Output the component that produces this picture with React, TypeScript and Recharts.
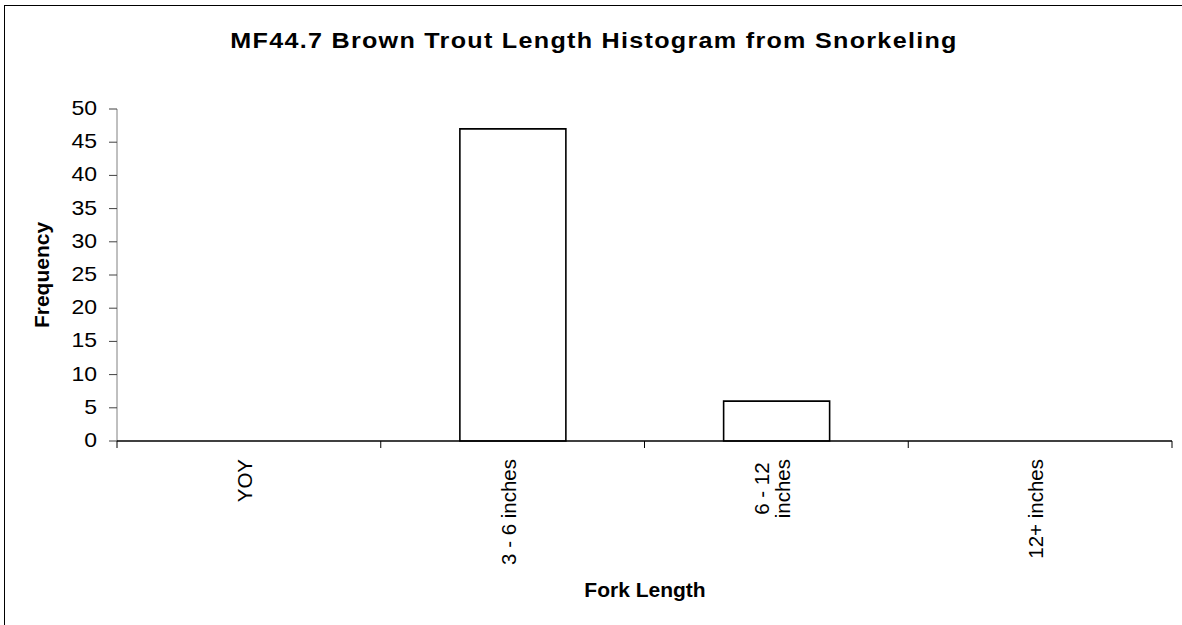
import React from 'react';
import { BarChart, Bar, XAxis, YAxis } from 'recharts';

const TITLE = 'MF44.7 Brown Trout Length Histogram from Snorkeling';
const X_TITLE = 'Fork Length';
const Y_TITLE = 'Frequency';
const categories = ['YOY', '3 - 6 inches', '6 - 12 inches', '12+ inches'];
const frequency = [0, 47, 6, 0];
const yTicks = [0, 5, 10, 15, 20, 25, 30, 35, 40, 45, 50];

const data = categories.map((c, i) => ({ name: c, value: frequency[i] }));

const W = 1182;
const H = 625;
const MARGIN = { top: 109, right: 10, left: 0, bottom: 34 };
const Y_AXIS_W = 117;
const X_AXIS_H = 150;
const PLOT_W = W - MARGIN.left - MARGIN.right - Y_AXIS_W;
const FONT = "'Liberation Sans', Arial, sans-serif";
const TICK_FS = 20.5;
const WRAP_W = 110;
const LINE_H = 21;

let ctx: CanvasRenderingContext2D | null = null;
const measure = (s: string) => {
  if (!ctx) {
    const c = document.createElement('canvas');
    ctx = c.getContext('2d');
  }
  if (!ctx) return s.length * TICK_FS * 0.5;
  ctx.font = `${TICK_FS}px ${FONT}`;
  return ctx.measureText(s).width;
};

const wrap = (s: string) => {
  const words = s.split(' ');
  const lines: string[] = [];
  let cur = '';
  for (const w of words) {
    const t = cur ? cur + ' ' + w : w;
    if (measure(t) > WRAP_W && cur) {
      lines.push(cur);
      cur = w;
    } else cur = t;
  }
  if (cur) lines.push(cur);
  return lines;
};

const XTick = (props: any) => {
  const { x, y, payload, index } = props;
  const band = PLOT_W / categories.length;
  const lines = wrap(String(payload.value));
  const maxW = Math.max(...lines.map(measure));
  const n = lines.length;
  return (
    <g>
      <line x1={x - band / 2} x2={x - band / 2} y1={y} y2={y + 7} stroke="#000" strokeWidth={1} />
      {index === categories.length - 1 && (
        <line x1={x + band / 2} x2={x + band / 2} y1={y} y2={y + 7} stroke="#000" strokeWidth={1} />
      )}
      <g transform={`translate(${x + 3}, ${y + 18}) rotate(-90)`}>
        {lines.map((ln, i) => (
          <text
            key={i}
            x={-maxW / 2}
            y={(i - (n - 1) / 2) * LINE_H}
            textAnchor="middle"
            fontSize={TICK_FS}
            fontFamily={FONT}
            fill="#000"
          >
            {ln}
          </text>
        ))}
      </g>
    </g>
  );
};

const YTick = (props: any) => {
  const { x, y, payload } = props;
  return (
    <g transform={`translate(${x}, ${y}) scale(1.15, 1)`}>
      <text
        x={0}
        y={0}
        dy="0.3em"
        textAnchor="end"
        fontSize={20}
        fontFamily={FONT}
        fill="#000"
      >
        {payload.value}
      </text>
    </g>
  );
};

export default function App() {
  return (
    <div
      style={{
        position: 'absolute',
        left: 0,
        top: 0,
        width: W,
        height: H,
        background: '#fff',
        overflow: 'hidden',
      }}
    >
      <div
        style={{
          position: 'absolute',
          left: 4,
          top: 5,
          width: W + 50,
          height: H + 50,
          borderTop: '1px solid #000',
          borderLeft: '1px solid #000',
        }}
      />
      <div style={{ position: 'absolute', left: 0, top: 0 }}>
        <BarChart
          width={W}
          height={H}
          data={data}
          margin={MARGIN}
          barCategoryGap="30%"
          style={{ fontFamily: FONT }}
        >
          <YAxis
            width={Y_AXIS_W}
            domain={[0, 50]}
            ticks={yTicks}
            interval={0}
            tickSize={8}
            tickMargin={12}
            axisLine={{ stroke: '#808080', strokeWidth: 1 }}
            tickLine={{ stroke: '#404040', strokeWidth: 1 }}
            tick={<YTick />}
          />
          <XAxis
            dataKey="name"
            height={X_AXIS_H}
            interval={0}
            tickSize={0}
            tickMargin={0}
            tickLine={false}
            axisLine={{ stroke: '#000', strokeWidth: 1.5 }}
            tick={<XTick />}
          />
          <Bar
            dataKey="value"
            fill="#fff"
            stroke="#000"
            strokeWidth={1.6}
            isAnimationActive={false}
          />
        </BarChart>
      </div>
      <svg
        width={W}
        height={H}
        style={{ position: 'absolute', left: 0, top: 0, pointerEvents: 'none' }}
      >
        <g transform="translate(594, 48) scale(1.17, 1)">
          <text
            x={0}
            y={0}
            textAnchor="middle"
            fontFamily={FONT}
            fontWeight="bold"
            fontSize={21.5}
            letterSpacing={1.1}
            fill="#000"
          >
            {TITLE}
          </text>
        </g>
        <text
          x={645}
          y={597}
          textAnchor="middle"
          fontFamily={FONT}
          fontWeight="bold"
          fontSize={21}
          fill="#000"
        >
          {X_TITLE}
        </text>
        <text
          transform="translate(49, 275) rotate(-90)"
          textAnchor="middle"
          fontFamily={FONT}
          fontWeight="bold"
          fontSize={21}
          fill="#000"
        >
          {Y_TITLE}
        </text>
      </svg>
    </div>
  );
}
